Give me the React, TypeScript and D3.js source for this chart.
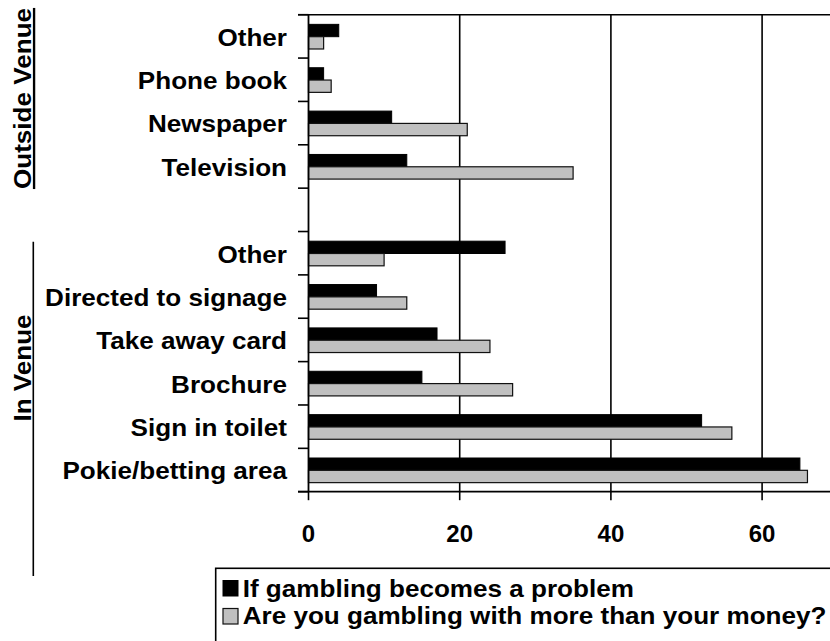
import React from "react";
import * as d3 from "d3";

const categories = [
  "Other",
  "Phone book",
  "Newspaper",
  "Television",
  "",
  "Other",
  "Directed to signage",
  "Take away card",
  "Brochure",
  "Sign in toilet",
  "Pokie/betting area",
];
const problemValues: (number | null)[] = [4, 2, 11, 13, null, 26, 9, 17, 15, 52, 65];
const moneyValues: (number | null)[] = [2, 3, 21, 35, null, 10, 13, 24, 27, 56, 66];
const seriesNames = ["If gambling becomes a problem", "Are you gambling with more than your money?"];
const xTicks = [0, 20, 40, 60];
const groups = [
  { name: "Outside Venue", from: 0, to: 3 },
  { name: "In Venue", from: 5, to: 10 },
];

const W = 830;
const H = 641;
const FONT = "'Liberation Sans', Arial, Helvetica, sans-serif";
const SX = 1.11;
const FS = 23.5;

export default function App() {
  const top = 14.7;
  const bottom = 491.7;
  const left = 308.5;
  const x = d3.scaleLinear().domain([0, 70]).range([left, left + 70 * 7.56]);
  const y = d3
    .scaleBand<number>()
    .domain(d3.range(categories.length))
    .range([top, bottom])
    .paddingInner(0)
    .paddingOuter(0);
  const bw = y.bandwidth();
  const barH = bw * 0.284;
  const groupOff = (bw - 2 * barH) / 2 + 0.3;
  const boundaries = d3.range(categories.length + 1).map((i) => top + i * bw);
  const right = x(70);

  return (
    <svg
      width={W}
      height={H}
      style={{ position: "absolute", left: 0, top: 0, background: "#fff" }}
      fontFamily={FONT}
      fontWeight="bold"
    >
      <rect x={0} y={0} width={W} height={H} fill="#fff" />
      {/* gridlines */}
      {xTicks
        .filter((t) => t > 0)
        .map((t) => (
          <line key={"g" + t} x1={x(t)} x2={x(t)} y1={top} y2={bottom} stroke="#000" strokeWidth={1.6} />
        ))}
      {/* top frame line */}
      <line x1={left - 10.5} x2={right} y1={top} y2={top} stroke="#000" strokeWidth={1.6} />
      {/* bars */}
      {categories.map((c, i) => {
        const y0 = (y(i) as number) + groupOff;
        const p = problemValues[i];
        const m = moneyValues[i];
        return (
          <g key={"b" + i}>
            {p != null && (
              <rect x={x(0)} y={y0} width={x(p) - x(0)} height={barH} fill="#000" stroke="#000" strokeWidth={1} />
            )}
            {m != null && (
              <rect
                x={x(0)}
                y={y0 + barH}
                width={x(m) - x(0)}
                height={barH}
                fill="#c0c0c0"
                stroke="#111"
                strokeWidth={1.2}
              />
            )}
          </g>
        );
      })}
      {/* y axis */}
      <line x1={left} x2={left} y1={top} y2={bottom} stroke="#000" strokeWidth={1.8} />
      {boundaries.map((b, i) => (
        <line key={"yt" + i} x1={left - 10.5} x2={left} y1={b} y2={b} stroke="#000" strokeWidth={1.6} />
      ))}
      {/* x axis */}
      <line x1={left - 10.5} x2={right} y1={bottom} y2={bottom} stroke="#000" strokeWidth={1.8} />
      {xTicks.map((t) => (
        <g key={"xt" + t}>
          <line x1={x(t)} x2={x(t)} y1={bottom} y2={bottom + 8.5} stroke="#000" strokeWidth={1.6} />
          <text x={x(t)} y={542} textAnchor="middle" fontSize={24} fill="#000">
            {t}
          </text>
        </g>
      ))}
      {/* category labels */}
      {categories.map((c, i) => (
        <text
          key={"l" + i}
          transform={`translate(287,${(y(i) as number) + bw / 2 + 9.3}) scale(${SX},1)`}
          textAnchor="end"
          fontSize={FS}
          fill="#000"
        >
          {c}
        </text>
      ))}
      {/* group labels */}
      {groups.map((g, gi) => {
        const mid = gi === 0 ? 98.5 : 368;
        return (
          <text
            key={"grp" + gi}
            transform={`translate(31,${mid}) rotate(-90) scale(${SX},1)`}
            textAnchor="middle"
            fontSize={FS}
            fill="#000"
            textDecoration={gi === 0 ? "underline" : undefined}
          >
            {g.name}
          </text>
        );
      })}
      <line x1={33.3} x2={33.3} y1={241.7} y2={576} stroke="#000" strokeWidth={1.6} />
      {/* legend */}
      <rect x={215.7} y={568.3} width={640} height={100} fill="#fff" stroke="#000" strokeWidth={1.6} />
      <rect x={223} y={580.5} width={15} height={15.5} fill="#000" stroke="#000" strokeWidth={1} />
      <text transform={`translate(242.7,596.7) scale(${SX},1)`} fontSize={FS} fill="#000">
        {seriesNames[0]}
      </text>
      <rect x={223} y={608.5} width={15} height={15.5} fill="#c0c0c0" stroke="#111" strokeWidth={1.2} />
      <text transform={`translate(242.7,624.3) scale(${SX},1)`} fontSize={FS} fill="#000">
        {seriesNames[1]}
      </text>
    </svg>
  );
}
